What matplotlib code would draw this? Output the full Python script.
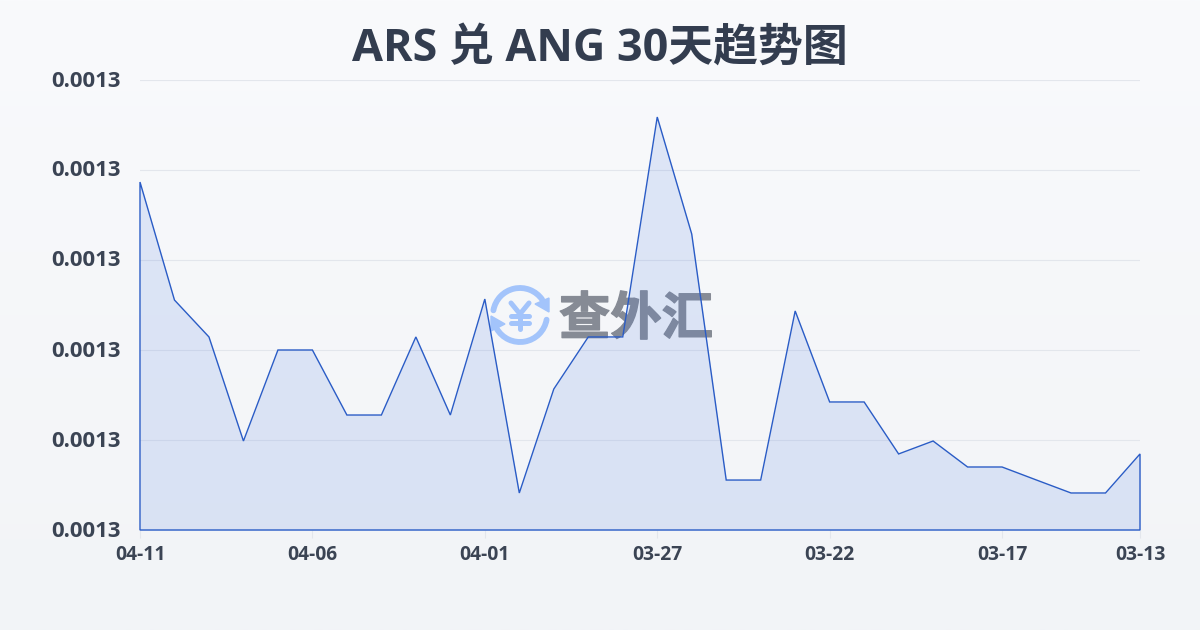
import numpy as np
import matplotlib
matplotlib.use("Agg")
import matplotlib.pyplot as plt
import matplotlib.patheffects as pe
from matplotlib.transforms import ScaledTranslation
from matplotlib.patches import Arc, Polygon
from matplotlib.colors import LinearSegmentedColormap

title = "ARS 兑 ANG 30天趋势图"
watermark = "查外汇"
dates = ["04-11", "04-06", "04-01", "03-27", "03-22", "03-17", "03-13"]
date_positions = [0, 5, 10, 15, 20, 25, 29]
y_ticks = [0.00130, 0.001308, 0.001316, 0.001324, 0.001332, 0.00134]
rates = [0.00133093, 0.00132044, 0.00131716, 0.00130791, 0.00131600, 0.00131600,
         0.00131022, 0.00131022, 0.00131716, 0.00131022, 0.00132053, 0.00130329,
         0.00131253, 0.00131716, 0.00131716, 0.00133671, 0.00132631, 0.00130444,
         0.00130444, 0.00131947, 0.00131138, 0.00131138, 0.00130676, 0.00130791,
         0.00130560, 0.00130560, 0.00130444, 0.00130329, 0.00130329, 0.00130676]

latin_cjk = ['Open Sans', 'Noto Sans CJK SC', 'DejaVu Sans']
plt.rcParams['font.family'] = latin_cjk
fig = plt.figure(figsize=(12, 6.3), dpi=100)

bg = fig.add_axes([0, 0, 1, 1], zorder=0)
cmap = LinearSegmentedColormap.from_list("bg", ["#f9fafc", "#f2f4f7"])
bg.imshow(np.linspace(0, 1, 256)[:, None], aspect="auto", cmap=cmap, extent=[0, 1200, 630, 0])
bg.set_xlim(0, 1200); bg.set_ylim(630, 0); bg.axis("off")

blue = "#a3c4fb"
cx, cy = 520, 315
bg.add_patch(Arc((cx, cy), 54, 54, theta1=190, theta2=325, color=blue, lw=4.2, capstyle="round"))
bg.add_patch(Arc((cx, cy), 54, 54, theta1=10, theta2=150, color=blue, lw=4.2, capstyle="round"))
bg.add_patch(Polygon([[549, 298], [549, 312], [535, 304]], color=blue))
bg.add_patch(Polygon([[491, 316], [491, 331], [505, 324]], color=blue))
for seg in [((511, 303), (520, 314)), ((529, 303), (520, 314)), ((520, 314), (520, 329)),
            ((511, 316), (529, 316)), ((511, 323), (529, 323))]:
    bg.plot(*zip(*seg), color=blue, lw=3.6, solid_capstyle="round")
bg.text(636, 319, watermark, fontsize=37, fontweight="bold", color="#868b95",
        family="Noto Sans CJK SC", ha="center", va="center",
        path_effects=[pe.withStroke(linewidth=1.0, foreground="#868b95")])

ax = fig.add_axes([140 / 1200, 1 - 530 / 630, 1000 / 1200, 450 / 630], zorder=1)
ax.patch.set_alpha(0)
x = np.arange(len(rates))
ax.fill_between(x, rates, y_ticks[0], color="#4a7ae0", alpha=0.15, lw=0)
ax.fill(np.r_[x, x[-1], x[0]], np.r_[rates, y_ticks[0], y_ticks[0]],
        fc="none", ec="#2a5cc6", lw=1.0, clip_on=False, joinstyle="miter")
ax.set_xlim(0, len(rates) - 1)
ax.set_ylim(y_ticks[0], y_ticks[-1])
ax.set_yticks(y_ticks)
ax.set_yticklabels([f"{v:.4f}" for v in y_ticks], fontsize=15.9, fontweight="bold", color="#3b4454")
ax.set_xticks(date_positions)
ax.set_xticklabels(dates, fontsize=13.9, fontweight="bold", color="#3b4454")
ax.grid(axis="y", color="#e3e6ec", lw=0.8)
ax.set_axisbelow(True)
for s in ax.spines.values():
    s.set_visible(False)
ax.tick_params(axis="y", length=0, pad=13.5)
ax.tick_params(axis="x", length=6, width=0.8, color="#e3e6ec", pad=5)
up = ScaledTranslation(0, 1.5 / 100, fig.dpi_scale_trans)
for lab in ax.get_yticklabels():
    lab.set_transform(lab.get_transform() + up)

bg.text(600, 49, title, fontsize=32.3, fontweight="bold", color="#333d4f", ha="center", va="center")
fig.savefig("out.png", dpi=100)
